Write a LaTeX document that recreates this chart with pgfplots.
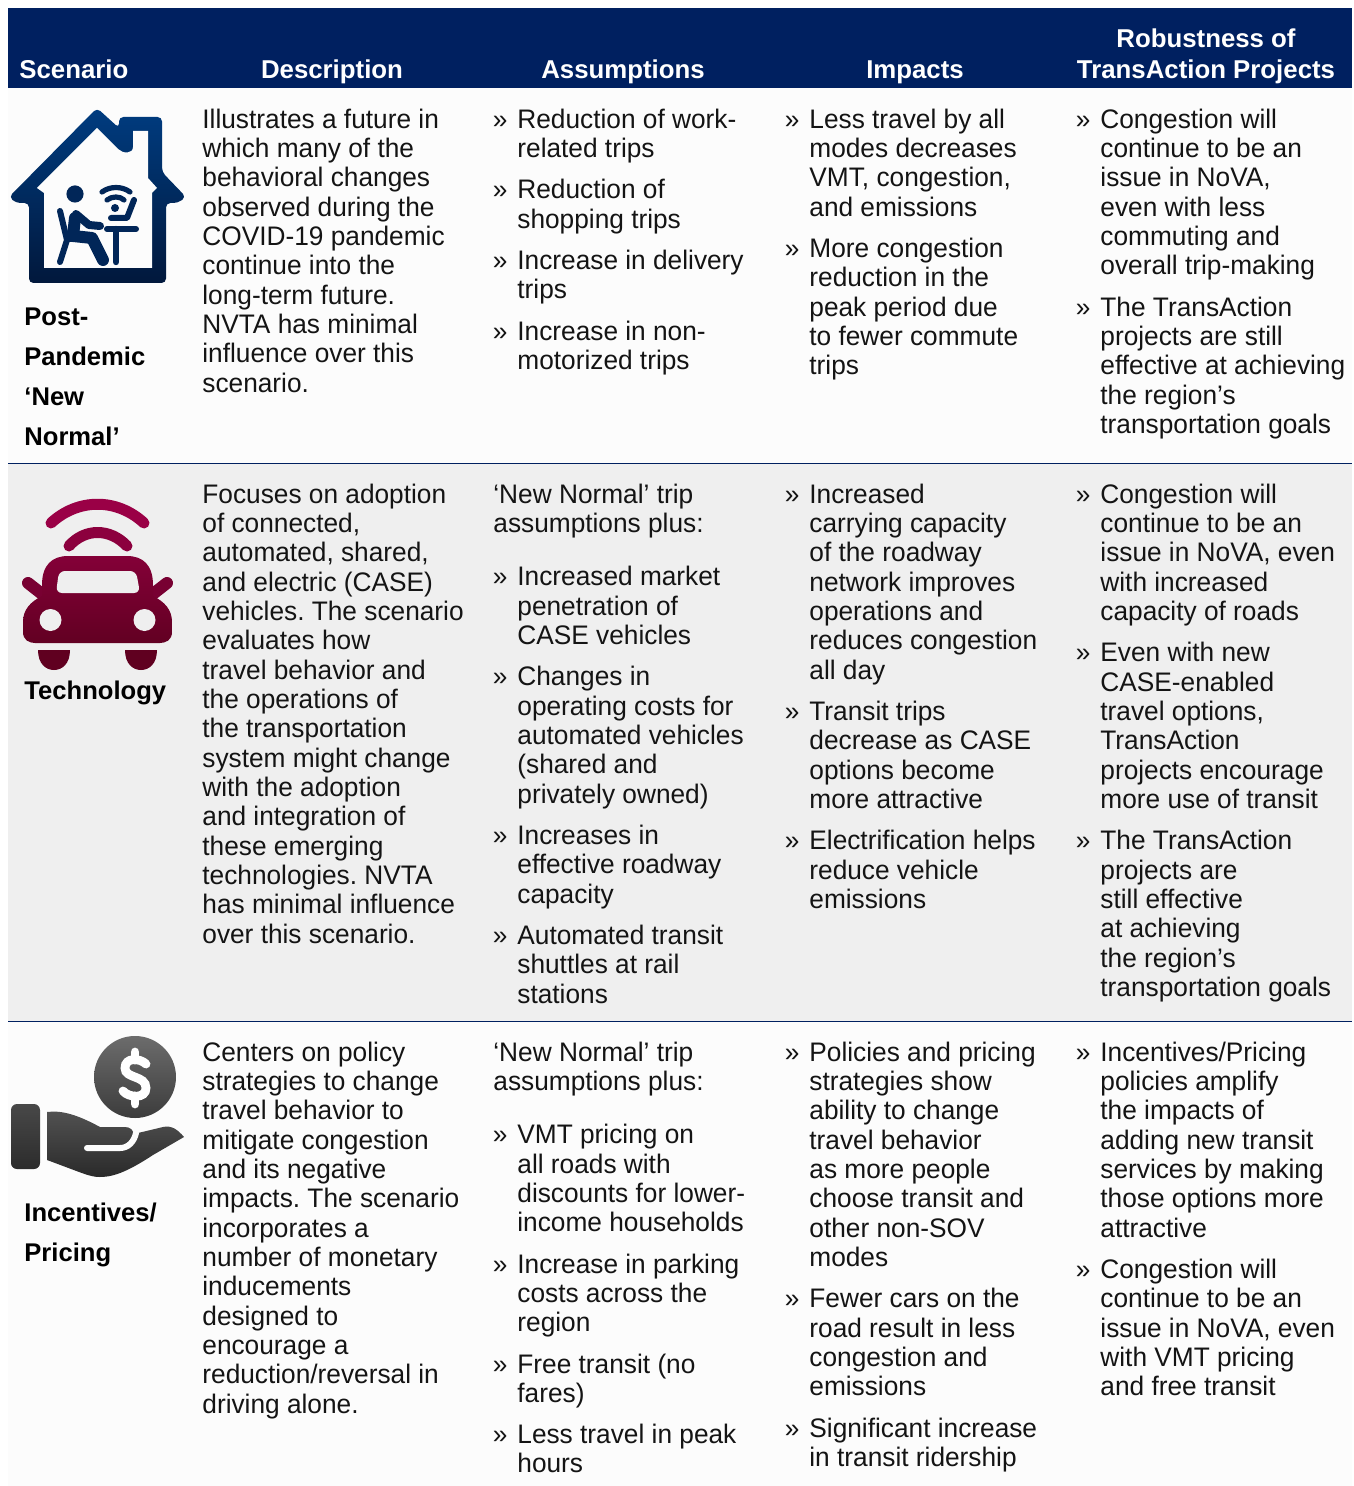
\documentclass[border=0pt]{standalone}
\usepackage{pgfplots}
\pgfplotsset{compat=1.18}
\usepackage{fontspec}
\setmainfont[FakeStretch=0.98]{Liberation Sans}
\newfontfamily\boldf{Liberation Sans}
\frenchspacing
\definecolor{navy}{HTML}{002060}
\definecolor{rowa}{HTML}{FCFCFC}
\definecolor{rowb}{HTML}{EFEFEF}
\definecolor{ink}{HTML}{141414}
\definecolor{hT}{RGB}{0,60,128}
\definecolor{hB}{RGB}{1,24,60}
\definecolor{hM}{RGB}{1,38,88}
\definecolor{cA}{RGB}{154,0,70}
\definecolor{cB}{RGB}{140,0,62}
\definecolor{cC}{RGB}{120,0,50}
\definecolor{cT}{RGB}{132,0,56}
\definecolor{cD}{RGB}{98,0,34}
\definecolor{cW}{RGB}{96,0,32}
\definecolor{mA}{RGB}{108,108,108}
\definecolor{mB}{RGB}{60,60,60}
\definecolor{mC}{RGB}{72,72,72}
\definecolor{mD}{RGB}{44,44,44}
\definecolor{mE}{RGB}{82,82,82}
\definecolor{mF}{RGB}{42,42,42}
\newcommand{\bodyf}{\fontsize{13.4}{15}\selectfont\color{ink}}
\newcommand{\headf}{\boldf\bfseries\fontsize{12.9}{15}\selectfont\color{white}}
\newcommand{\labf}{\boldf\bfseries\fontsize{12.8}{15}\selectfont\color{black}}
\newcommand{\Lx}[3]{\node[anchor=base west,inner sep=0pt,font=\bodyf] at (axis cs:#1,{#2+9+(#2<450)}) {#3};}
\newcommand{\Bx}[3]{\node[anchor=base west,inner sep=0pt,font=\bodyf] at (axis cs:#1-24.5,{#2+9+(#2<450)}) {»};\node[anchor=base west,inner sep=0pt,font=\bodyf] at (axis cs:#1,{#2+9+(#2<450)}) {#3};}
\newcommand{\Hd}[3]{\node[anchor=base,inner sep=0pt,font=\headf] at (axis cs:#1,{#2+10}) {#3};}
\newcommand{\Lb}[2]{\node[anchor=base west,inner sep=0pt,font=\labf] at (axis cs:24,{#1+9}) {#2};}
\begin{document}
\begin{tikzpicture}
\begin{axis}[hide axis,scale only axis,width=676.5pt,height=743pt,
  xmin=0,xmax=1353,ymin=0,ymax=1486,y dir=reverse,clip=false]
\path[fill=white] (axis cs:0,0) rectangle (axis cs:1353,1486);
% bands
\addplot[fill=navy,draw=none] coordinates {(8,8)(1352,8)(1352,88.5)(8,88.5)} --cycle;
\addplot[fill=rowa,draw=none] coordinates {(8,88.5)(1352,88.5)(1352,463)(8,463)} --cycle;
\addplot[fill=rowb,draw=none] coordinates {(8,463)(1352,463)(1352,1021)(8,1021)} --cycle;
\addplot[fill=rowa,draw=none] coordinates {(8,1021)(1352,1021)(1352,1486)(8,1486)} --cycle;
\addplot[navy,line width=0.5pt] coordinates {(8,463.5)(1352,463.5)};
\addplot[navy,line width=0.5pt] coordinates {(8,1021.5)(1352,1021.5)};
% header
\node[anchor=base west,inner sep=0pt,font=\headf] at (axis cs:19,79) {Scenario};
\Hd{332}{69}{Description}
\Hd{623}{69}{Assumptions}
\Hd{915}{69}{Impacts}
\Hd{1206}{38}{Robustness of}
\Hd{1206}{69}{TransAction Projects}
% house icon
\shade[top color=hT,bottom color=hB,rounded corners=2.2pt]
 (97,108) -- (119,128) -- (119,117) -- (162,117) -- (162,172) -- (186,197) -- (178,203) -- (166,203) -- (166,283) -- (29,283) -- (29,203) -- (16,203) -- (9,197) -- cycle;
\fill[rowa] (97,128) -- (118,149) .. controls (123,154) and (133,154) .. (133,147) -- (133,131) -- (148,131) -- (148,178) -- (157,188) -- (152,193) -- (152,268) -- (44,268) -- (44,193) -- (37,188) -- cycle;
\begin{scope}[draw=hM,fill=hM,line cap=round,line join=round]
\fill (75,194) circle[radius=4.3pt];
\draw[line width=3pt] (60,211) -- (67,240) -- (60,262);
\draw[line width=2pt] (67,240) -- (90,240);
\draw[line width=6pt] (75,218) -- (73,236) -- (92,238) -- (103,260);
\draw[line width=4pt] (76,214) -- (89,225) -- (100,226);
\draw[line width=3pt] (107,229) -- (136,229);
\draw[line width=3.2pt] (116,229) -- (116,262);
\draw[line width=3pt] (134,200) -- (127,218) -- (111,218);
\draw[line width=2.6pt] (102,192) .. controls (110,186) and (122,186) .. (130,192);
\draw[line width=2.6pt] (107,200) .. controls (112,196) and (120,196) .. (124,200);
\fill (115,208) circle[radius=2pt];
\end{scope}
% car icon
\begin{scope}[line cap=round,line join=round]
\draw[line width=5.5pt,draw=cA] (51,523) .. controls (78,498) and (117,498) .. (144,523);
\draw[line width=5.5pt,draw=cB] (69,546) .. controls (85,528) and (110,528) .. (127,546);
\draw[line width=6pt,draw=cC] (28,583) -- (42,594);
\draw[line width=6pt,draw=cC] (167,583) -- (153,594);
\end{scope}
\shade[top color=cT,bottom color=cD]
 (42,585) .. controls (42,565) and (52,556) .. (68,556) -- (127,556) .. controls (143,556) and (153,565) .. (153,585) -- (153,596) .. controls (165,602) and (172,610) .. (172,622) -- (172,632) .. controls (172,640) and (166,643) .. (160,643) -- (35,643) .. controls (29,643) and (23,640) .. (23,632) -- (23,622) .. controls (23,610) and (30,602) .. (42,596) -- cycle;
\fill[rowb,rounded corners=3pt] (56,593) -- (59,571) -- (136,571) -- (140,593) -- cycle;
\fill[rowb] (50.5,620) circle[radius=5.5pt];
\fill[rowb] (144.5,620) circle[radius=5.5pt];
\fill[cW] (38,650) -- (70,650) .. controls (70,664) and (62,670) .. (54,670) .. controls (46,670) and (38,664) .. (38,650) -- cycle;
\fill[cW] (125,650) -- (157,650) .. controls (157,664) and (149,670) .. (141,670) .. controls (133,670) and (125,664) .. (125,650) -- cycle;
% money icon
\shade[top color=mA,bottom color=mB] (135,1077) circle[radius=20.5pt];
\draw[white,line width=4.4pt,line cap=round] (146,1064) .. controls (140,1058) and (125,1057) .. (125,1068) .. controls (125,1079) and (146,1075) .. (146,1088) .. controls (146,1099) and (129,1098) .. (123,1091);
\draw[white,line width=4.4pt,line cap=round] (135,1052) -- (135,1060);
\draw[white,line width=4.4pt,line cap=round] (135,1096) -- (135,1104);
\shade[top color=mC,bottom color=mD,rounded corners=3pt] (11,1104) rectangle (40,1169);
\shade[top color=mE,bottom color=mF]
 (47,1112) .. controls (62,1110) and (78,1115) .. (100,1127) -- (125,1127) .. controls (130,1127) and (134,1130) .. (134,1136) -- (138,1133) -- (163,1127) .. controls (172,1125) and (178,1130) .. (184,1137) -- (153,1155) .. controls (130,1170) and (115,1177) .. (100,1177) .. controls (90,1177) and (85,1174) .. (47,1160) -- cycle;
\draw[rowa,line width=3pt,line cap=round] (87,1148) -- (120,1148) .. controls (128,1148) and (134,1142) .. (136,1133);
% labels
\Lb{316.5}{Post-}\Lb{356.5}{Pandemic}\Lb{396.5}{‘New}\Lb{436}{Normal’}
\Lb{690}{Technology}
\Lb{1212}{Incentives/}\Lb{1252}{Pricing}
% description
\Lx{202}{119}{Illustrates a future in}\Lx{202}{148}{which many of the}\Lx{202}{177}{behavioral changes}\Lx{202}{207}{observed during the}\Lx{202}{236}{COVID-19 pandemic}\Lx{202}{265}{continue into the}\Lx{202}{295}{long-term future.}\Lx{202}{324}{NVTA has minimal}\Lx{202}{353}{influence over this}\Lx{202}{383}{scenario.}
\Lx{202}{494}{Focuses on adoption}\Lx{202}{523}{of connected,}\Lx{202}{552}{automated, shared,}\Lx{202}{582}{and electric (CASE)}\Lx{202}{611}{vehicles. The scenario}\Lx{202}{640}{evaluates how}\Lx{202}{670}{travel behavior and}\Lx{202}{699}{the operations of}\Lx{202}{728}{the transportation}\Lx{202}{758}{system might change}\Lx{202}{787}{with the adoption}\Lx{202}{816}{and integration of}\Lx{202}{846}{these emerging}\Lx{202}{875}{technologies. NVTA}\Lx{202}{904}{has minimal influence}\Lx{202}{934}{over this scenario.}
\Lx{202}{1052}{Centers on policy}\Lx{202}{1081}{strategies to change}\Lx{202}{1110}{travel behavior to}\Lx{202}{1140}{mitigate congestion}\Lx{202}{1169}{and its negative}\Lx{202}{1198}{impacts. The scenario}\Lx{202}{1228}{incorporates a}\Lx{202}{1257}{number of monetary}\Lx{202}{1286}{inducements}\Lx{202}{1316}{designed to}\Lx{202}{1345}{encourage a}\Lx{202}{1374}{reduction/reversal in}\Lx{202}{1404}{driving alone.}
% assumptions
\Bx{517}{119}{Reduction of work-}\Lx{517}{148}{related trips}\Bx{517}{189}{Reduction of}\Lx{517}{219}{shopping trips}\Bx{517}{260}{Increase in delivery}\Lx{517}{289}{trips}\Bx{517}{331}{Increase in non-}\Lx{517}{360}{motorized trips}
\Lx{493}{494}{‘New Normal’ trip}\Lx{493}{523}{assumptions plus:}
\Bx{517}{576}{Increased market}\Lx{517}{606}{penetration of}\Lx{517}{635}{CASE vehicles}\Bx{517}{676}{Changes in}\Lx{517}{706}{operating costs for}\Lx{517}{735}{automated vehicles}\Lx{517}{764}{(shared and}\Lx{517}{794}{privately owned)}\Bx{517}{835}{Increases in}\Lx{517}{864}{effective roadway}\Lx{517}{894}{capacity}\Bx{517}{935}{Automated transit}\Lx{517}{964}{shuttles at rail}\Lx{517}{994}{stations}
\Lx{493}{1052}{‘New Normal’ trip}\Lx{493}{1081}{assumptions plus:}
\Bx{517}{1134}{VMT pricing on}\Lx{517}{1164}{all roads with}\Lx{517}{1193}{discounts for lower-}\Lx{517}{1222}{income households}\Bx{517}{1264}{Increase in parking}\Lx{517}{1293}{costs across the}\Lx{517}{1322}{region}\Bx{517}{1364}{Free transit (no}\Lx{517}{1393}{fares)}\Bx{517}{1434}{Less travel in peak}\Lx{517}{1463}{hours}
% impacts
\Bx{809}{119}{Less travel by all}\Lx{809}{148}{modes decreases}\Lx{809}{177}{VMT, congestion,}\Lx{809}{207}{and emissions}\Bx{809}{248}{More congestion}\Lx{809}{277}{reduction in the}\Lx{809}{307}{peak period due}\Lx{809}{336}{to fewer commute}\Lx{809}{365}{trips}
\Bx{809}{494}{Increased}\Lx{809}{523}{carrying capacity}\Lx{809}{552}{of the roadway}\Lx{809}{582}{network improves}\Lx{809}{611}{operations and}\Lx{809}{640}{reduces congestion}\Lx{809}{670}{all day}\Bx{809}{711}{Transit trips}\Lx{809}{740}{decrease as CASE}\Lx{809}{770}{options become}\Lx{809}{799}{more attractive}\Bx{809}{840}{Electrification helps}\Lx{809}{870}{reduce vehicle}\Lx{809}{899}{emissions}
\Bx{809}{1052}{Policies and pricing}\Lx{809}{1081}{strategies show}\Lx{809}{1110}{ability to change}\Lx{809}{1140}{travel behavior}\Lx{809}{1169}{as more people}\Lx{809}{1198}{choose transit and}\Lx{809}{1228}{other non-SOV}\Lx{809}{1257}{modes}\Bx{809}{1298}{Fewer cars on the}\Lx{809}{1328}{road result in less}\Lx{809}{1357}{congestion and}\Lx{809}{1386}{emissions}\Bx{809}{1428}{Significant increase}\Lx{809}{1457}{in transit ridership}
% robustness
\Bx{1100}{119}{Congestion will}\Lx{1100}{148}{continue to be an}\Lx{1100}{177}{issue in NoVA,}\Lx{1100}{207}{even with less}\Lx{1100}{236}{commuting and}\Lx{1100}{265}{overall trip-making}\Bx{1100}{307}{The TransAction}\Lx{1100}{336}{projects are still}\Lx{1100}{365}{effective at achieving}\Lx{1100}{395}{the region’s}\Lx{1100}{424}{transportation goals}
\Bx{1100}{494}{Congestion will}\Lx{1100}{523}{continue to be an}\Lx{1100}{552}{issue in NoVA, even}\Lx{1100}{582}{with increased}\Lx{1100}{611}{capacity of roads}\Bx{1100}{652}{Even with new}\Lx{1100}{682}{CASE-enabled}\Lx{1100}{711}{travel options,}\Lx{1100}{740}{TransAction}\Lx{1100}{770}{projects encourage}\Lx{1100}{799}{more use of transit}\Bx{1100}{840}{The TransAction}\Lx{1100}{870}{projects are}\Lx{1100}{899}{still effective}\Lx{1100}{928}{at achieving}\Lx{1100}{958}{the region’s}\Lx{1100}{987}{transportation goals}
\Bx{1100}{1052}{Incentives/Pricing}\Lx{1100}{1081}{policies amplify}\Lx{1100}{1110}{the impacts of}\Lx{1100}{1140}{adding new transit}\Lx{1100}{1169}{services by making}\Lx{1100}{1198}{those options more}\Lx{1100}{1228}{attractive}\Bx{1100}{1269}{Congestion will}\Lx{1100}{1298}{continue to be an}\Lx{1100}{1328}{issue in NoVA, even}\Lx{1100}{1357}{with VMT pricing}\Lx{1100}{1386}{and free transit}
\end{axis}
\end{tikzpicture}
\end{document}
